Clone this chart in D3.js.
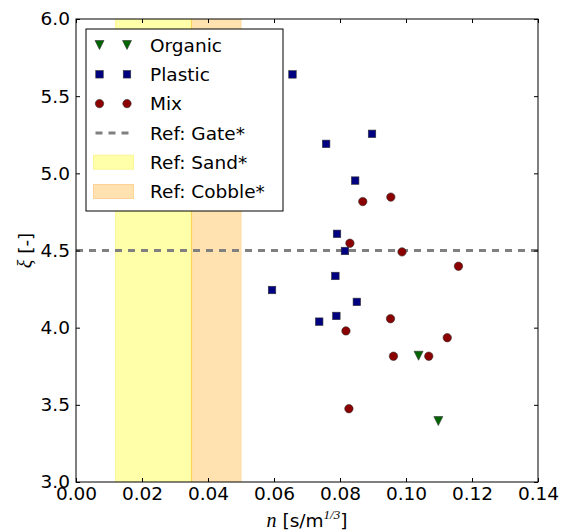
<!DOCTYPE html>
<html>
<head>
<meta charset="utf-8">
<script src="https://cdn.jsdelivr.net/npm/d3@7"></script>
<style>
  body { margin: 0; background: #fff; }
  svg text { font-family: "DejaVu Sans", sans-serif; fill: #000; }
  .math { font-family: "Liberation Serif", "DejaVu Serif", serif; font-style: italic; }
</style>
</head>
<body>
<svg id="chart" width="561" height="532"></svg>
<script>
// ---- data ----
const organicN = [0.1038, 0.1098];
const organicXi = [3.818, 3.395];

const plasticN = [0.0656, 0.0897, 0.0758, 0.0846, 0.0791, 0.0815, 0.0786, 0.0594, 0.0851, 0.0789, 0.0737];
const plasticXi = [5.641, 5.256, 5.191, 4.953, 4.608, 4.497, 4.335, 4.244, 4.167, 4.076, 4.039];

const mixN = [0.0869, 0.0954, 0.0830, 0.0988, 0.1159, 0.0953, 0.0818, 0.1125, 0.0962, 0.1069, 0.0827];
const mixXi = [4.817, 4.846, 4.547, 4.491, 4.398, 4.058, 3.979, 3.935, 3.815, 3.815, 3.475];

const gateXi = 4.5;
const sandRange = [0.012, 0.035];
const cobbleRange = [0.035, 0.05];

const xTicks = [0, 0.02, 0.04, 0.06, 0.08, 0.10, 0.12, 0.14];
const yTicks = [3.0, 3.5, 4.0, 4.5, 5.0, 5.5, 6.0];

const legendLabels = ["Organic", "Plastic", "Mix", "Ref: Gate*", "Ref: Sand*", "Ref: Cobble*"];

// ---- layout ----
const margin = { top: 19, right: 23, bottom: 50, left: 76 };
const W = 561, H = 532;
const width = W - margin.left - margin.right;
const height = H - margin.top - margin.bottom;

const svg = d3.select("#chart");
const g = svg.append("g").attr("transform", "translate(" + margin.left + "," + margin.top + ")");

const x = d3.scaleLinear().domain([0, 0.14]).range([0, width]);
const y = d3.scaleLinear().domain([3, 6]).range([height, 0]);

const sandFill = "rgb(255,255,170)";
const cobbleFill = "rgb(255,226,176)";

// spans
g.append("rect")
    .attr("x", x(sandRange[0])).attr("y", 0)
    .attr("width", x(sandRange[1]) - x(sandRange[0])).attr("height", height)
    .attr("fill", sandFill);
g.append("rect")
    .attr("x", x(cobbleRange[0])).attr("y", 0)
    .attr("width", x(cobbleRange[1]) - x(cobbleRange[0])).attr("height", height)
    .attr("fill", cobbleFill);
// span edges
g.append("line")
    .attr("x1", x(sandRange[0])).attr("x2", x(sandRange[0]))
    .attr("y1", 0).attr("y2", height)
    .attr("stroke", "rgb(250,245,150)").attr("stroke-width", 1);
g.append("line")
    .attr("x1", x(cobbleRange[0])).attr("x2", x(cobbleRange[0]))
    .attr("y1", 0).attr("y2", height)
    .attr("stroke", "rgb(252,210,90)").attr("stroke-width", 1.2);
g.append("line")
    .attr("x1", x(cobbleRange[1])).attr("x2", x(cobbleRange[1]))
    .attr("y1", 0).attr("y2", height)
    .attr("stroke", "rgb(253,218,160)").attr("stroke-width", 1);

// gate line
g.append("line")
    .attr("x1", 0).attr("x2", width)
    .attr("y1", y(gateXi)).attr("y2", y(gateXi))
    .attr("stroke", "#808080")
    .attr("stroke-width", 3)
    .attr("stroke-dasharray", "7,6");

// markers
const sq = 7.5, rad = 4.2, tri = 4.5;
function drawSquare(sel, cx, cy) {
    sel.append("rect")
        .attr("x", cx - sq / 2).attr("y", cy - sq / 2)
        .attr("width", sq).attr("height", sq)
        .attr("fill", "#000080").attr("stroke", "#333").attr("stroke-width", 0.6);
}
function drawCircle(sel, cx, cy) {
    sel.append("circle")
        .attr("cx", cx).attr("cy", cy).attr("r", rad)
        .attr("fill", "#8b0000").attr("stroke", "#333").attr("stroke-width", 0.6);
}
function drawTri(sel, cx, cy) {
    sel.append("path")
        .attr("d", "M" + (cx - tri) + "," + (cy - tri) + "L" + (cx + tri) + "," + (cy - tri) + "L" + cx + "," + (cy + tri) + "Z")
        .attr("fill", "#006400").attr("stroke", "#333").attr("stroke-width", 0.6);
}

const pts = g.append("g");
organicN.forEach((n, i) => drawTri(pts, x(n), y(organicXi[i])));
plasticN.forEach((n, i) => drawSquare(pts, x(n), y(plasticXi[i])));
mixN.forEach((n, i) => drawCircle(pts, x(n), y(mixXi[i])));

// frame
g.append("rect")
    .attr("x", 0).attr("y", 0).attr("width", width).attr("height", height)
    .attr("fill", "none").attr("stroke", "#000").attr("stroke-width", 1);

// axes, ticks inward on all sides
const fs = "18.5px";
g.append("g").attr("transform", "translate(0," + height + ")")
    .call(d3.axisBottom(x).tickValues(xTicks).tickFormat(d3.format(".2f")).tickSizeInner(-4).tickSizeOuter(0).tickPadding(5));
g.append("g")
    .call(d3.axisLeft(y).tickValues(yTicks).tickFormat(d3.format(".1f")).tickSizeInner(-4).tickSizeOuter(0).tickPadding(6));
g.append("g")
    .call(d3.axisTop(x).tickValues(xTicks).tickFormat("").tickSizeInner(-4).tickSizeOuter(0));
g.append("g").attr("transform", "translate(" + width + ",0)")
    .call(d3.axisRight(y).tickValues(yTicks).tickFormat("").tickSizeInner(-4).tickSizeOuter(0));
g.selectAll(".domain").remove();
g.selectAll(".tick text").style("font-size", fs).style("font-family", "DejaVu Sans");

// axis labels
const xl = svg.append("text")
    .attr("x", margin.left + width / 2).attr("y", 527)
    .attr("text-anchor", "middle").style("font-size", fs);
xl.append("tspan").attr("class", "math").style("font-size", "20px").text("n");
xl.append("tspan").text(" [s/m");
xl.append("tspan").attr("class", "math").attr("dy", -8).style("font-size", "13px").text("1/3");
xl.append("tspan").attr("dy", 8).text("]");

const yl = svg.append("text")
    .attr("transform", "translate(32," + (margin.top + height / 2) + ") rotate(-90)")
    .attr("text-anchor", "middle").style("font-size", fs);
yl.append("tspan").attr("class", "math").style("font-size", "20px").text("ξ");
yl.append("tspan").text(" [-]");

// legend
const lg = svg.append("g").attr("transform", "translate(86,29)");
lg.append("rect")
    .attr("width", 197).attr("height", 182)
    .attr("fill", "#fff").attr("stroke", "#000").attr("stroke-width", 1);

const rowY = d3.scalePoint().domain(legendLabels).range([16, 162.5]);
const m1 = 13.5, m2 = 41, tx = 64;

legendLabels.forEach(function (lab, i) {
    const cy = rowY(lab);
    if (i === 0) { drawTri(lg, m1, cy); drawTri(lg, m2, cy); }
    if (i === 1) { drawSquare(lg, m1, cy); drawSquare(lg, m2, cy); }
    if (i === 2) { drawCircle(lg, m1, cy); drawCircle(lg, m2, cy); }
    if (i === 3) {
        lg.append("line").attr("x1", m1 - 4).attr("x2", m2 + 2)
            .attr("y1", cy).attr("y2", cy)
            .attr("stroke", "#808080").attr("stroke-width", 3).attr("stroke-dasharray", "7,6");
    }
    if (i === 4 || i === 5) {
        lg.append("rect").attr("x", 7.5).attr("y", cy - 7).attr("width", 40).attr("height", 14)
            .attr("fill", i === 4 ? sandFill : cobbleFill)
            .attr("stroke", i === 4 ? "rgb(250,245,150)" : "rgb(253,210,150)").attr("stroke-width", 1);
    }
    lg.append("text")
        .attr("x", tx).attr("y", cy).attr("dy", "0.36em")
        .style("font-size", fs).text(lab);
});
</script>
</body>
</html>
